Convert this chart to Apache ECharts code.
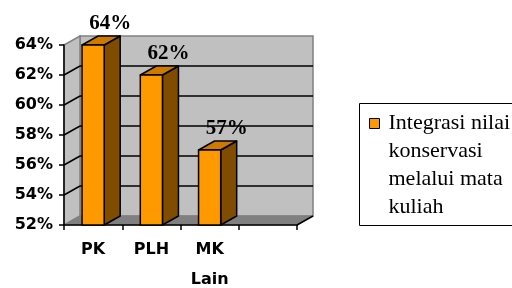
<!DOCTYPE html>
<html>
<head>
<meta charset="utf-8">
<script src="https://cdn.jsdelivr.net/npm/echarts@6/dist/echarts.min.js"></script>
<style>
  html, body { margin: 0; padding: 0; background: #fff; }
  #chart { width: 512px; height: 288px; }
</style>
</head>
<body>
<div id="chart"></div>
<script>
// data
const categories = ['PK', 'PLH', 'MK\nLain', '']
const values = [0.64, 0.62, 0.57]
const seriesName = 'Integrasi nilai konservasi melalui mata kuliah'
const legendText = 'Integrasi nilai\nkonservasi\nmelalui mata\nkuliah'
const yMin = 0.52
const yMax = 0.64
const yStep = 0.02
const gridValues = [0.54, 0.56, 0.58, 0.60, 0.62, 0.64]

// 3d look
const DX = 16
const DY = -9
const WALL = '#C0C0C0'
const WALL_EDGE = '#808080'
const FLOOR = '#808080'
const FRONT = '#FF9900'
const SIDE = '#7F4C00'
const TOP = '#CC7A00'

const pct = v => Math.round(v * 100) + '%'

// walls, floor and gridlines behind the bars
function renderFrame(params, api) {
  const cs = params.coordSys
  const x0 = cs.x
  const x1 = cs.x + cs.width
  const yTop = api.coord([0, yMax])[1]
  const yBot = api.coord([0, yMin])[1]
  const children = []
  // back wall
  children.push({
    type: 'rect',
    shape: { x: x0 + DX, y: yTop + DY, width: x1 - x0, height: yBot - yTop },
    style: { fill: WALL, stroke: WALL_EDGE, lineWidth: 1.5 }
  })
  // left wall
  children.push({
    type: 'polygon',
    shape: { points: [[x0, yTop], [x0 + DX, yTop + DY], [x0 + DX, yBot + DY], [x0, yBot]] },
    style: { fill: WALL, stroke: WALL_EDGE, lineWidth: 1.5 }
  })
  // gridlines on back wall + their diagonals on the left wall
  gridValues.forEach(v => {
    if (v >= yMax - 1e-9) return
    const y = api.coord([0, v])[1]
    children.push({
      type: 'line',
      shape: { x1: x0 + DX, y1: y + DY, x2: x1 + DX, y2: y + DY },
      style: { stroke: '#000', lineWidth: 1.5 }
    })
    children.push({
      type: 'line',
      shape: { x1: x0, y1: y, x2: x0 + DX, y2: y + DY },
      style: { stroke: '#000', lineWidth: 1.5 }
    })
  })
  // floor
  children.push({
    type: 'polygon',
    shape: { points: [[x0, yBot], [x1, yBot], [x1 + DX, yBot + DY], [x0 + DX, yBot + DY]] },
    style: { fill: FLOOR, stroke: FLOOR, lineWidth: 1 }
  })
  children.push({
    type: 'line',
    shape: { x1: x1, y1: yBot, x2: x1 + DX, y2: yBot + DY },
    style: { stroke: '#000', lineWidth: 1.5 }
  })
  return { type: 'group', children: children }
}

// one 3d bar with its value label
function renderBar(params, api) {
  const idx = api.value(0)
  const val = api.value(1)
  const top = api.coord([idx, val])
  const bot = api.coord([idx, yMin])
  const half = api.size([1, 0])[0] * 0.19
  const cx = top[0]
  const l = cx - half
  const r = cx + half
  const yt = top[1]
  const yb = bot[1]
  const line = { stroke: '#000', lineWidth: 1.5, lineJoin: 'round' }
  return {
    type: 'group',
    children: [
      {
        type: 'polygon',
        shape: { points: [[r, yt], [r + DX, yt + DY], [r + DX, yb + DY], [r, yb]] },
        style: Object.assign({ fill: SIDE }, line)
      },
      {
        type: 'polygon',
        shape: { points: [[l, yt], [l + DX, yt + DY], [r + DX, yt + DY], [r, yt]] },
        style: Object.assign({ fill: TOP }, line)
      },
      {
        type: 'rect',
        shape: { x: l, y: yt, width: r - l, height: yb - yt },
        style: Object.assign({ fill: FRONT }, line)
      },
      {
        type: 'text',
        x: cx + 17,
        y: yt - 21,
        style: {
          text: pct(val),
          fill: '#000',
          font: 'bold 21px "Liberation Serif"',
          align: 'center',
          verticalAlign: 'middle'
        }
      }
    ]
  }
}

const chart = echarts.init(document.getElementById('chart'), null, { renderer: 'canvas' })

const option = {
  backgroundColor: '#fff',
  animation: false,
  grid: { left: 64, right: 215, top: 45, bottom: 63, containLabel: false, outerBoundsMode: 'none' },
  // legend frame runs past the right edge, like the original
  graphic: [
    {
      type: 'rect',
      x: 359.5,
      y: 103.5,
      shape: { width: 220, height: 122 },
      style: { fill: 'none', stroke: '#000', lineWidth: 1 },
      silent: true
    }
  ],
  legend: {
    data: [{ name: seriesName, icon: 'path://M0,0M0,9h10v10h-10zM10,112' }],
    left: 359,
    top: 103,
    orient: 'vertical',
    itemWidth: 10,
    itemHeight: 112,
    padding: [6, 10, 4, 10],
    borderWidth: 0,
    itemStyle: { color: FRONT, borderColor: '#000', borderWidth: 1 },
    textStyle: {
      fontFamily: 'Liberation Serif',
      fontSize: 22,
      lineHeight: 28,
      color: '#000',
      padding: [0, 0, 0, 4]
    },
    formatter: () => legendText
  },
  xAxis: {
    type: 'category',
    data: categories,
    boundaryGap: true,
    axisLine: { lineStyle: { color: '#000', width: 1.5 } },
    axisTick: { show: true, length: 5, alignWithLabel: false, lineStyle: { color: '#000', width: 1.5 } },
    axisLabel: {
      margin: 10,
      color: '#000',
      fontFamily: 'DejaVu Sans',
      fontWeight: 'bold',
      fontSize: 16,
      lineHeight: 30,
      interval: 0
    },
    splitLine: { show: false }
  },
  yAxis: {
    type: 'value',
    min: yMin,
    max: yMax,
    interval: yStep,
    axisLine: { show: true, lineStyle: { color: '#000', width: 1.5 } },
    axisTick: { show: true, length: 5, lineStyle: { color: '#000', width: 1.5 } },
    axisLabel: {
      margin: 11,
      color: '#000',
      fontFamily: 'DejaVu Sans',
      fontWeight: 'bold',
      fontSize: 16,
      formatter: v => pct(v)
    },
    splitLine: { show: false }
  },
  series: [
    {
      type: 'custom',
      name: 'frame',
      z: -1,
      silent: true,
      renderItem: renderFrame,
      data: [[0, yMin]],
      encode: { x: 0, y: 1 }
    },
    {
      type: 'custom',
      name: seriesName,
      z: 3,
      itemStyle: { color: FRONT },
      renderItem: renderBar,
      data: values.map((v, i) => [i, v]),
      encode: { x: 0, y: 1 }
    }
  ]
}

chart.setOption(option)
</script>
</body>
</html>
